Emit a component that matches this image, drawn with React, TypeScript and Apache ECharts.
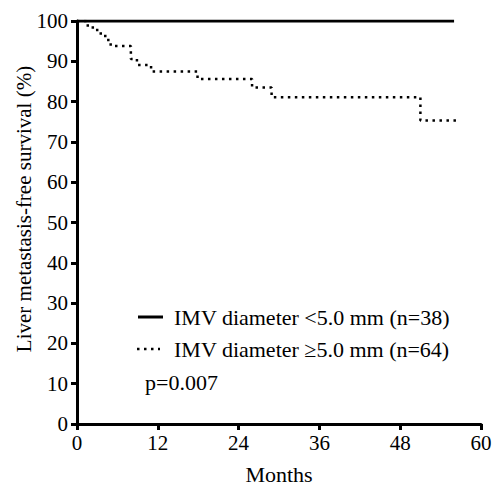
import React, { useEffect, useRef } from "react";
import * as echarts from "echarts";

const xTicks = [0, 12, 24, 36, 48, 60];
const yTicks = [0, 10, 20, 30, 40, 50, 60, 70, 80, 90, 100];
const smallTimes = [0, 56];
const smallSurv = [100, 100];
const largeTimes = [0, 1.6, 3.0, 4.2, 5.0, 8.0, 8.9, 11.0, 17.9, 26.0, 28.9, 51.0, 56.6];
const largeSurv = [100, 98.4, 96.9, 95.3, 93.8, 90.6, 89.1, 87.5, 85.6, 83.5, 81.1, 75.3, 75.3];
const legendLabels = ["IMV diameter <5.0 mm (n=38)", "IMV diameter ≥5.0 mm (n=64)"];
const yTitle = "Liver metastasis-free survival (%)";
const xTitle = "Months";
const pText = "p=0.007";

const FONT = "'Liberation Serif', 'Times New Roman', serif";

export default function App() {
  const ref = useRef<HTMLDivElement>(null);
  useEffect(() => {
    if (!ref.current) return;
    const chart = echarts.init(ref.current, undefined, { renderer: "svg" });
    const axisLabel = { fontFamily: FONT, fontSize: 21, color: "#000" };
    chart.setOption({
      animation: false,
      backgroundColor: "#fff",
      grid: { left: 77, right: 13, top: 21, bottom: 63, outerBoundsMode: "none", containLabel: false },
      xAxis: {
        type: "value",
        min: 0,
        max: 60,
        interval: 12,
        axisLine: { lineStyle: { color: "#000", width: 3 } },
        axisTick: { show: true, length: 6, lineStyle: { color: "#000", width: 3 } },
        axisLabel: { ...axisLabel, margin: 8 },
        splitLine: { show: false },
      },
      yAxis: {
        type: "value",
        min: 0,
        max: 100,
        interval: 10,
        axisLine: { show: true, lineStyle: { color: "#000", width: 3 } },
        axisTick: { show: true, length: 6, lineStyle: { color: "#000", width: 3 } },
        axisLabel: { ...axisLabel, margin: 9 },
        splitLine: { show: false },
      },
      series: [
        {
          name: legendLabels[0],
          type: "line",
          step: "end",
          symbol: "none",
          data: smallTimes.map((t, i) => [t, smallSurv[i]]),
          lineStyle: { color: "#000", width: 3 },
          z: 3,
        },
        {
          name: legendLabels[1],
          type: "line",
          step: "end",
          symbol: "none",
          data: largeTimes.map((t, i) => [t, largeSurv[i]]),
          lineStyle: { color: "#000", width: 2.5, type: [2.5, 4.5] },
          z: 2,
        },
      ],
      graphic: [
        {
          type: "text",
          x: 24,
          y: 209,
          rotation: Math.PI / 2,
          style: { text: yTitle, font: `21px ${FONT}`, fill: "#000", align: "center", verticalAlign: "middle" },
        },
        {
          type: "text",
          x: 279,
          y: 474,
          style: { text: xTitle, font: `22px ${FONT}`, lineHeight: 22, fill: "#000", align: "center", verticalAlign: "middle" },
        },
        { type: "line", shape: { x1: 138, y1: 317, x2: 163, y2: 317 }, style: { stroke: "#000", lineWidth: 3 } },
        { type: "text", x: 174, y: 317, style: { text: legendLabels[0], font: `22px ${FONT}`, fill: "#000", verticalAlign: "middle" } },
        { type: "line", shape: { x1: 137, y1: 349, x2: 160, y2: 349 }, style: { stroke: "#000", lineWidth: 2.5, lineDash: [2.5, 4.5] } },
        { type: "text", x: 174, y: 349, style: { text: legendLabels[1], font: `22px ${FONT}`, fill: "#000", verticalAlign: "middle" } },
        { type: "text", x: 145, y: 382, style: { text: pText, font: `22px ${FONT}`, fill: "#000", verticalAlign: "middle" } },
      ],
    });
    return () => chart.dispose();
  }, []);
  return <div ref={ref} style={{ position: "fixed", left: 0, top: 0, width: 494, height: 487 }} />;
}
